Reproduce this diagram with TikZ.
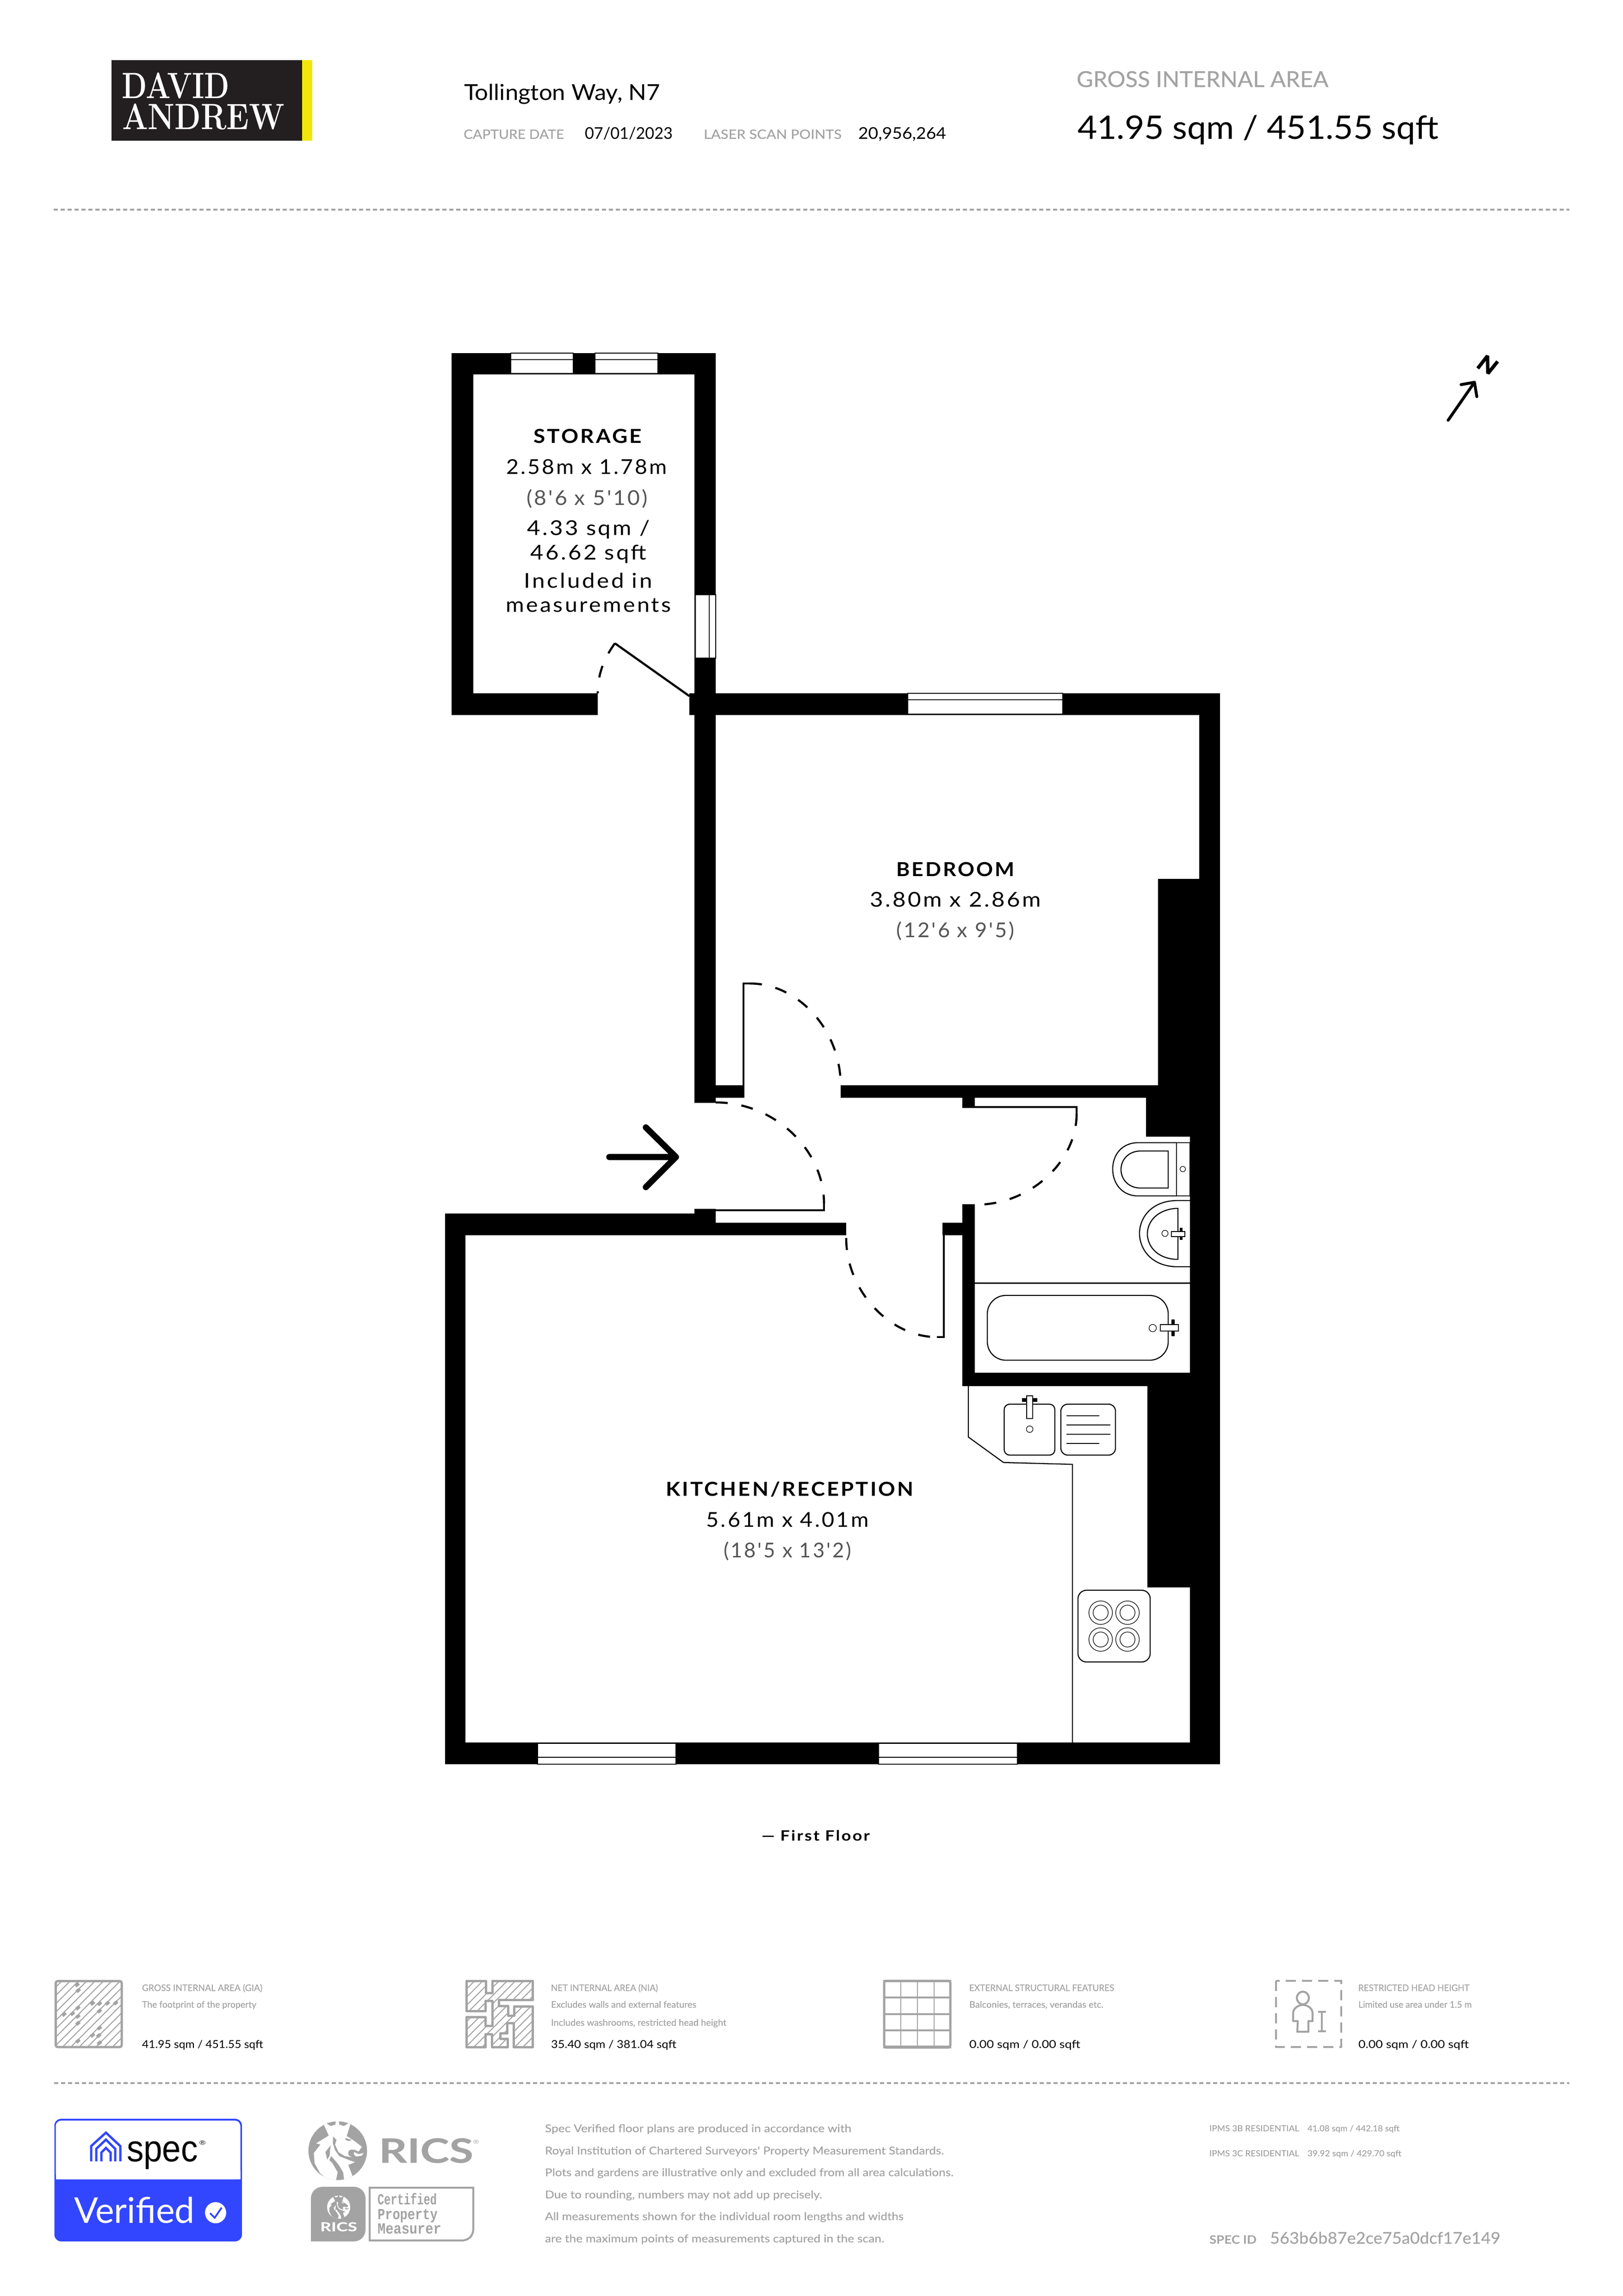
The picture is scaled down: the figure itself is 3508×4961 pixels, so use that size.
\documentclass[tikz,border=0pt]{standalone}
\usepackage{fontspec}
\usepackage{graphicx}
\newfontfamily\lato{Lato}
\newfontfamily\latom[FakeBold=0.35]{Lato}
\newfontfamily\lsp[LetterSpace=9]{Lato}
\newfontfamily\lib{Liberation Sans}
\newfontfamily\libm{Liberation Mono}
\newdimen\pxl \pxl=0.24pt
\newcommand\ft[3]{{\fontsize{#2pt}{#2pt}\selectfont\resizebox{#1\pxl}{\height}{#3}}}
\definecolor{gr}{HTML}{A3A3A3}
\definecolor{bl}{HTML}{3246FF}
\definecolor{ft}{HTML}{555555}
\definecolor{logo}{HTML}{231F20}
\definecolor{yel}{HTML}{F2E60A}
\tikzset{
  t/.style={inner sep=0pt,outer sep=0pt,anchor=base west,font=\lato},
  c/.style={inner sep=0pt,outer sep=0pt,anchor=base,font=\lsp},
  grt/.style={text=gr,font=\latom},
  wall/.style={fill=black,draw=none},
  win/.style={fill=white,draw=black,line width=0.4pt},
  fix/.style={draw=black,line width=0.55pt},
  leaf/.style={draw=black,line width=1.1pt},
  swing/.style={draw=black,line width=1.1pt,dash pattern=on 6.2pt off 7.2pt},
  rule/.style={draw=gr,line width=1pt,dash pattern=on 2.2pt off 1.4pt},
  ic/.style={draw=gr,line width=1.2pt},
  ht/.style={draw=gr,line width=0.5pt},
}
\newcommand\lionmark[2]{%
  \fill[#1] (240,230) circle [radius=45.6pt];
  \begin{scope}
  \clip (240,230) circle [radius=45.6pt];
  \fill[#2] (150,30)--(150,62)--(182,132)--(100,182)--(128,190)--(85,245)--(90,310)--(125,375)--(168,412)--(228,425)--(305,425)--(335,392)--(308,322)--(352,305)--(330,272)--(310,258)--(312,235)--(345,222)--(375,235)--(397,205)--(345,165)--(298,135)--(320,65)--(320,30)--cycle;
  \fill[#1] (165,30)--(170,55)--(195,70)--(225,60)--(228,30)--cycle;
  \fill[#1] (246,30)--(250,60)--(280,70)--(305,55)--(312,30)--cycle;
  \fill[#1] (210,138)--(232,160)--(222,190)--(245,240)--(285,265)--(330,272)--(352,305)--(300,285)--(250,265)--(222,225)--(208,180)--cycle;
  \fill[#1] (195,195)--(160,238)--(172,288)--(188,262)--(190,225)--cycle;
  \fill[#1] (198,265)--(245,320)--(275,370)--(282,425)--(228,425)--(240,370)--(205,310)--(185,290)--cycle;
  \fill[#1] (288,148)--(332,160)--(312,168)--(292,160)--cycle;
  \fill[#1] (330,245) circle [radius=5.3pt];
  \fill[#2] (345,238)--(375,252)--(408,245)--(395,262)--(360,268)--(345,255)--cycle;
  \end{scope}
}
\begin{document}
\begin{tikzpicture}[x=0.24pt,y=-0.24pt]
\useasboundingbox (0,0) rectangle (3508,4961);
\fill[white] (0,0) rectangle (3508,4961);
% ---------- header
\fill[logo] (241,130) rectangle (653,304);
\fill[yel] (653,130) rectangle (675,304);
\node[t,text=white,font=\rmfamily\bfseries] (logoa) at (263,212) {\ft{233}{19}{DAVID}};
\node[t,text=white,font=\rmfamily\bfseries] (logob) at (264,279) {\ft{351}{19}{ANDREW}};
\node[t] (addr) at (1003,216) {\ft{424}{11.4}{Tollington Way, N7}};
\node[t,grt] (capl) at (1002,300) {\ft{217}{6.7}{CAPTURE DATE}};
\node[t] (capv) at (1264,300) {\ft{190}{8.4}{07/01/2023}};
\node[t,grt] (lasl) at (1521,300) {\ft{298}{6.7}{LASER SCAN POINTS}};
\node[t] (lasv) at (1855,300) {\ft{190}{8.4}{20,956,264}};
\node[t,grt] (gial) at (2327,188) {\ft{544}{11.4}{GROSS INTERNAL AREA}};
\node[t] (giav) at (2329,300) {\ft{780}{16.8}{41.95 sqm / 451.55 sqft}};
\draw[rule] (116,453) -- (3392,453);
% ---------- walls
\fill[wall] (976,763) rectangle (1022.5,1545);
\fill[wall] (976,763) rectangle (1547,809);
\fill[wall] (1501,763) rectangle (1547,1545);
\fill[wall] (976,1498) rectangle (1292,1545);
\fill[wall] (1490,1498) rectangle (2637,1545);
\fill[wall] (1501,1545) rectangle (1547,2383);
\fill[wall] (1547,2345) rectangle (1609,2372);
\fill[wall] (1817,2345) rectangle (2503,2372);
\fill[wall] (2592,1498) rectangle (2637,3812);
\fill[wall] (2503,1899) rectangle (2637,2372);
\fill[wall] (2477,2372) rectangle (2637,2456);
\fill[wall] (2572,2456) rectangle (2637,3812);
\fill[wall] (2080,2372) rectangle (2107,2394);
\fill[wall] (2080,2602) rectangle (2107,2995);
\fill[wall] (2080,2966) rectangle (2637,2995);
\fill[wall] (2480,2995) rectangle (2637,3430);
\fill[wall] (962,2622) rectangle (1006,3812);
\fill[wall] (962,2622) rectangle (1547,2669);
\fill[wall] (1501,2612) rectangle (1547,2669);
\fill[wall] (1547,2642) rectangle (1829,2669);
\fill[wall] (2037,2642) rectangle (2080,2669);
\fill[wall] (962,3765) rectangle (2637,3812);
% ---------- windows
\draw[win] (1104,763) rectangle (1239,807); \draw[fix,line width=0.4pt] (1104,777) -- (1239,777);
\draw[win] (1286,763) rectangle (1422,807); \draw[fix,line width=0.4pt] (1286,777) -- (1422,777);
\draw[win] (1503,1285) rectangle (1547,1422); \draw[fix,line width=0.4pt] (1533,1285) -- (1533,1422);
\draw[win] (1962,1498) rectangle (2297,1543); \draw[fix,line width=0.4pt] (1962,1512) -- (2297,1512);
\draw[win] (1162,3767) rectangle (1461,3812); \draw[fix,line width=0.4pt] (1162,3797) -- (1461,3797);
\draw[win] (1899,3767) rectangle (2199,3812); \draw[fix,line width=0.4pt] (1899,3797) -- (2199,3797);
% ---------- doors
\draw[leaf] (1329,1390) -- (1490,1504);
\draw[swing] (1329,1390) .. controls (1305,1423.5) and (1292,1457) .. (1292,1498);
\draw[leaf] (1621,2125) -- (1607,2125) -- (1607,2345);
\draw[swing] (1621,2125) .. controls (1724,2125) and (1817,2224) .. (1817,2345);
\draw[leaf] (1547,2615) -- (1781,2615) -- (1781,2600);
\draw[swing] (1547,2382) .. controls (1676,2382) and (1781,2486) .. (1781,2600);
\draw[leaf] (2107,2392) -- (2327,2392) -- (2327,2407);
\draw[swing] (2327,2407) .. controls (2327,2509) and (2228,2603) .. (2109,2603);
\draw[leaf] (2025,2889) -- (2040,2889) -- (2040,2669);
\draw[swing] (1829,2675) .. controls (1829,2790) and (1924,2889) .. (2025,2889);
% ---------- entrance arrow and north
\draw[line width=3.2pt,line cap=round,line join=round] (1317,2500) -- (1461,2500) (1396,2436) -- (1461,2500) -- (1396,2565);
\draw[line width=1.5pt,line cap=round,line join=round] (3130,908) -- (3187,826) (3158,831) -- (3187,826) -- (3192,857);
\draw[line width=1.8pt,line join=bevel] (3194,796) -- (3215,769) -- (3216,807) -- (3237,781);
% ---------- bathroom
\draw[fix] (2543,2469) rectangle (2572,2584);
\fill[white,draw=black,line width=0.3pt] (2556.5,2526) circle [radius=1.4pt];
\draw[fix] (2543,2469) -- (2460,2469) .. controls (2425,2469) and (2405,2495) .. (2405,2526) .. controls (2405,2557) and (2425,2584) .. (2460,2584) -- (2543,2584);
\draw[fix] (2525,2487) -- (2465,2487) .. controls (2440,2487) and (2423,2505) .. (2423,2527) .. controls (2423,2549) and (2440,2567) .. (2465,2567) -- (2525,2567) -- cycle;
\draw[fix] (2572,2594) -- (2545,2594) .. controls (2490,2594) and (2463,2630) .. (2463,2665) .. controls (2463,2700) and (2490,2737) .. (2545,2737) -- (2572,2737);
\draw[fix] (2546,2611) -- (2540,2611) .. controls (2500,2615) and (2480,2640) .. (2480,2666) .. controls (2480,2692) and (2500,2718) .. (2540,2721) -- (2546,2721) -- cycle;
\draw[fix,line width=0.3pt] (2518,2665) circle [radius=1.6pt];
\fill[black] (2550,2653) rectangle (2556,2679);
\draw[fix,fill=white,line width=0.3pt] (2532,2661) rectangle (2561,2672);
\draw[fix] (2107,2772.5) -- (2572,2772.5);
\draw[fix,rounded corners=9.6pt] (2134,2799) rectangle (2525,2939);
\draw[fix,line width=0.3pt] (2491.5,2869.5) circle [radius=1.9pt];
\fill[black] (2532,2851) rectangle (2539,2887);
\draw[fix,fill=white,line width=0.3pt] (2508,2862) rectangle (2547,2876);
% ---------- kitchen
\draw[fix] (2093,2995) -- (2093,3105) -- (2169,3160) -- (2318,3164) -- (2318,3765);
\draw[fix,rounded corners=2.8pt] (2170.5,3034) rectangle (2280,3144);
\fill[black] (2209,3021) rectangle (2242,3029);
\draw[fix,fill=white,line width=0.3pt] (2219,3016) rectangle (2232,3065);
\draw[fix,line width=0.3pt] (2225.5,3088) circle [radius=1.7pt];
\draw[fix,rounded corners=3.6pt] (2293,3034) rectangle (2411,3144);
\draw[fix,line width=0.35pt] (2305,3059) -- (2376,3059) (2305,3079) -- (2400,3079) (2305,3099) -- (2400,3099) (2305,3119) -- (2376,3119);
\draw[fix,rounded corners=4.4pt] (2330,3436) rectangle (2486,3591);
\foreach \px/\py in {2379/3484.5,2437/3484.5,2379/3542.5,2437/3542.5}{
  \draw[fix,line width=0.3pt] (\px,\py) circle [radius=6.1pt];
  \draw[fix,line width=0.3pt] (\px,\py) circle [radius=3.9pt];
}
% ---------- room labels
\node[c,font=\lsp\bfseries] (r1a) at (1270,957) {\ft{234}{10}{STORAGE}};
\node[c] (r1b) at (1268,1024) {\ft{348}{10.6}{2.58m x 1.78m}};
\node[c,text=ft] (r1c) at (1269,1091) {\ft{262}{10.6}{(8'6 x 5'10)}};
\node[c] (r1d) at (1272,1156) {\ft{265}{10.6}{4.33 sqm /}};
\node[c] (r1e) at (1272,1209) {\ft{251}{10.6}{46.62 sqft}};
\node[c] (r1f) at (1271,1270) {\ft{277}{10.6}{Included in}};
\node[c] (r1g) at (1272,1322) {\ft{357}{10.6}{measurements}};
\node[c,font=\lsp\bfseries] (r2a) at (2065,1893) {\ft{256}{10}{BEDROOM}};
\node[c] (r2b) at (2065,1959) {\ft{370}{10.6}{3.80m x 2.86m}};
\node[c,text=ft] (r2c) at (2065,2025) {\ft{256}{10.6}{(12'6 x 9'5)}};
\node[c,font=\lsp\bfseries] (r3a) at (1707,3232) {\ft{535}{10}{KITCHEN/RECEPTION}};
\node[c] (r3b) at (1702,3299) {\ft{351}{10.6}{5.61m x 4.01m}};
\node[c,text=ft] (r3c) at (1702,3365) {\ft{276}{10.6}{(18'5 x 13'2)}};
\node[c,font=\lsp\bfseries] (floor) at (1763,3977) {\ft{234}{7.4}{— First Floor}};
% ---------- legend icons
\begin{scope}
  \clip[rounded corners=1pt] (120,4280) rectangle (263,4423);
  \foreach \k in {4396,4414,...,4700}{ \draw[ht] ({\k-4260},4260) -- ({\k-4440},4440); }
\end{scope}
\draw[ic,rounded corners=1pt] (120.5,4280.5) rectangle (263,4423);
\begin{scope}[shift={(100,4260)},scale=0.3333]
  \foreach \px/\py in {115/277,170/272,205/235,205/290,205/335,207/122,200/85,205/450,300/205,345/207,397/205,450/203,345/255,345/365,300/412,340/415,345/462}{
    \draw[draw=gr,line width=1.7pt] ({\px-11},{\py+9}) -- ({\px+11},{\py-9});
  }
\end{scope}
\begin{scope}[shift={(990,4260)},scale=0.3333]
  \begin{scope}
    \clip (55,60)--(180,60)--(180,140)--(222,140)--(222,60)--(485,60)--(485,185)--(265,185)--(265,222)--(325,222)--(325,285)--(365,285)--(365,225)--(485,225)--(485,490)--(360,490)--(360,335)--(320,335)--(320,400)--(275,400)--(275,435)--(322,435)--(322,490)--(220,490)--(220,405)--(178,405)--(178,490)--(55,490)--(55,295)--(178,295)--(178,352)--(222,352)--(222,190)--(178,190)--(178,255)--(55,255)--cycle;
    \foreach \k in {115,168,...,1000}{ \draw[ht] (\k,0) -- (0,\k); }
  \end{scope}
  \draw[ic,line join=round] (55,60)--(180,60)--(180,140)--(222,140)--(222,60)--(485,60)--(485,185)--(265,185)--(265,222)--(325,222)--(325,285)--(365,285)--(365,225)--(485,225)--(485,490)--(360,490)--(360,335)--(320,335)--(320,400)--(275,400)--(275,435)--(322,435)--(322,490)--(220,490)--(220,405)--(178,405)--(178,490)--(55,490)--(55,295)--(178,295)--(178,352)--(222,352)--(222,190)--(178,190)--(178,255)--(55,255)--cycle;
\end{scope}
\draw[ic,rounded corners=1pt] (1911,4280) rectangle (2054,4424);
\draw[ic,line width=0.6pt] (1947,4280) -- (1947,4424) (1983,4280) -- (1983,4424) (2019,4280) -- (2019,4424);
\draw[ic,line width=0.9pt] (1911,4316) -- (2054,4316) (1911,4352) -- (2054,4352) (1911,4387) -- (2054,4387);
\fill[gr] (1909,4278) rectangle (2056,4283);
\fill[gr] (1909,4420) rectangle (2056,4426);
\draw[draw=gr,line width=1.1pt,dash pattern=on 5.2pt off 3.2pt] (2758,4280) rectangle (2899,4423);
\draw[draw=gr,line width=1pt] (2816,4317) ellipse [x radius=3.1pt,y radius=3.3pt];
\draw[draw=gr,line width=1pt,line join=round] (2805,4367) -- (2795,4367) -- (2795,4350) .. controls (2795,4338) and (2808,4332) .. (2816,4332) .. controls (2824,4332) and (2837,4338) .. (2837,4350) -- (2837,4367) -- (2828,4367) -- (2828,4390) -- (2804,4390) -- cycle;
\draw[draw=gr,line width=1pt] (2849,4347) -- (2866,4347) (2857,4347) -- (2857,4389) (2849,4389) -- (2866,4389);
% ---------- legend text
\node[t,grt] (l1a) at (307,4302) {\ft{260}{4.7}{GROSS INTERNAL AREA (GIA)}};
\node[t,grt] (l1b) at (307,4338) {\ft{247}{4.7}{The footprint of the property}};
\node[t] (l1c) at (307,4425) {\ft{262}{5.6}{41.95 sqm / 451.55 sqft}};
\node[t,grt] (l2a) at (1191,4302) {\ft{231}{4.7}{NET INTERNAL AREA (NIA)}};
\node[t,grt] (l2b) at (1191,4338) {\ft{314}{4.7}{Excludes walls and external features}};
\node[t,grt] (l2c) at (1191,4377) {\ft{379}{4.7}{Includes washrooms, restricted head height}};
\node[t] (l2d) at (1191,4425) {\ft{271}{5.6}{35.40 sqm / 381.04 sqft}};
\node[t,grt] (l3a) at (2095,4302) {\ft{313}{4.7}{EXTERNAL STRUCTURAL FEATURES}};
\node[t,grt] (l3b) at (2095,4338) {\ft{290}{4.7}{Balconies, terraces, verandas etc.}};
\node[t] (l3c) at (2095,4425) {\ft{240}{5.6}{0.00 sqm / 0.00 sqft}};
\node[t,grt] (l4a) at (2936,4302) {\ft{240}{4.7}{RESTRICTED HEAD HEIGHT}};
\node[t,grt] (l4b) at (2936,4338) {\ft{245}{4.7}{Limited use area under 1.5 m}};
\node[t] (l4c) at (2936,4425) {\ft{239}{5.6}{0.00 sqm / 0.00 sqft}};
\draw[rule] (117,4501) -- (3392,4501);
% ---------- spec badge
\fill[bl,rounded corners=3.6pt] (117.5,4578) rectangle (523,4843);
\fill[white,rounded corners=2.8pt] (120.5,4582) -- (519.5,4582) -- (519.5,4709) -- (120.5,4709) -- cycle;
\fill[white] (120.5,4690) rectangle (519.5,4709);
\draw[bl,line width=1.2pt,line join=miter] (197,4670) -- (197,4637) -- (229,4608) -- (260,4637) -- (260,4670);
\draw[bl,line width=1.2pt,line join=miter] (208,4670) -- (208,4643) -- (229,4623) -- (249,4643) -- (249,4670);
\draw[bl,line width=1.2pt,line join=miter] (219,4670) -- (219,4651) -- (229,4641) -- (239,4651) -- (239,4670);
\node[t,font=\lib] (specw) at (274,4670) {\ft{154}{19.4}{spec}};
\node[t,font=\lib] (specr) at (431,4634) {\ft{13}{3.2}{®}};
\node[t,font=\lato,text=white] (verif) at (160,4803) {\ft{261}{18.4}{Verified}};
\fill[white] (466,4781) circle [radius=5.5pt];
\draw[bl,line width=0.9pt,line join=miter] (454,4782) -- (464,4792) -- (479,4770);
% ---------- RICS
\begin{scope}[shift={(730,4647)},scale=0.3333,shift={(-240,-230)}]
  \lionmark{gr}{white}
\end{scope}
\node[t,font=\latom\bfseries,text=gr] (rics) at (819,4673) {\ft{204}{17.4}{RICS}};
\node[t,font=\lib,text=gr] (ricsr) at (1023,4632) {\ft{12}{3}{®}};
\fill[gr,rounded corners=6pt] (672,4843) -- (672,4725) -- (790,4725) -- (790,4843) -- cycle;
\fill[gr] (672,4790) rectangle (700,4843);
\begin{scope}[shift={(732,4769)},scale=0.1316,shift={(-240,-230)}]
  \lionmark{white}{gr}
\end{scope}
\node[t,font=\latom\bfseries,text=white] (ricss) at (692,4821) {\ft{80}{6.4}{RICS}};
\draw[gr,line width=1pt] (799,4727) -- (1023,4727) -- (1023,4815) .. controls (1023,4832) and (1012,4841) .. (998,4841) -- (799,4841) -- cycle;
\node[t,font=\libm\bfseries,text=gr] (cert1) at (816,4763) {\ft{128}{8}{Certified}};
\node[t,font=\libm\bfseries,text=gr] (cert2) at (816,4795) {\ft{130}{8}{Property}};
\node[t,font=\libm\bfseries,text=gr] (cert3) at (816,4826) {\ft{138}{8}{Measurer}};
% ---------- disclaimer
\node[t,grt] (d1) at (1178,4607) {\ft{662}{5.6}{Spec Verified floor plans are produced in accordance with}};
\node[t,grt] (d2) at (1178,4655) {\ft{862}{5.6}{Royal Institution of Chartered Surveyors' Property Measurement Standards.}};
\node[t,grt] (d3) at (1178,4702) {\ft{883}{5.6}{Plots and gardens are illustrative only and excluded from all area calculations.}};
\node[t,grt] (d4) at (1178,4750) {\ft{599}{5.6}{Due to rounding, numbers may not add up precisely.}};
\node[t,grt] (d5) at (1178,4797) {\ft{775}{5.6}{All measurements shown for the individual room lengths and widths}};
\node[t,grt] (d6) at (1178,4845) {\ft{733}{5.6}{are the maximum points of measurements captured in the scan.}};
\node[t,grt] (i1a) at (2614,4605) {\ft{194}{4.3}{IPMS 3B RESIDENTIAL}};
\node[t,grt] (i1b) at (2826,4605) {\ft{199}{4.3}{41.08 sqm / 442.18 sqft}};
\node[t,grt] (i2a) at (2614,4659) {\ft{194}{4.3}{IPMS 3C RESIDENTIAL}};
\node[t,grt] (i2b) at (2826,4659) {\ft{203}{4.3}{39.92 sqm / 429.70 sqft}};
\node[t,grt,font=\lato\bfseries] (sid) at (2614,4848) {\ft{102}{6}{SPEC ID}};
\node[t,grt] (sidv) at (2745,4848) {\ft{498}{8.4}{563b6b87e2ce75a0dcf17e149}};
\end{tikzpicture}
\end{document}
